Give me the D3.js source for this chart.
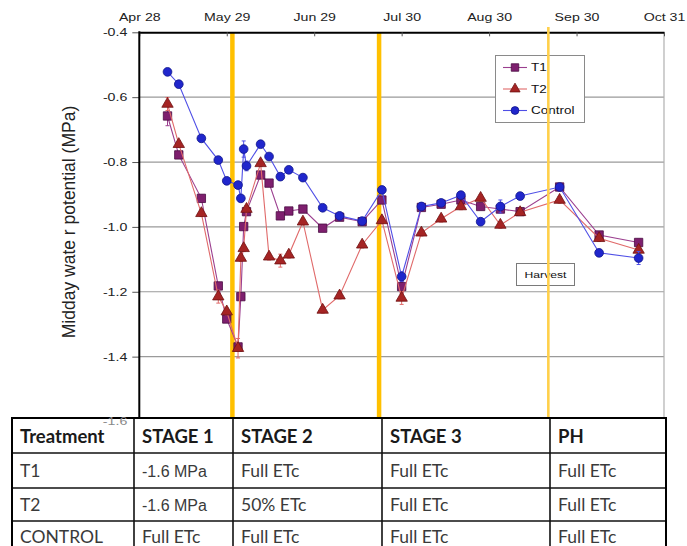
<!DOCTYPE html>
<html><head><meta charset="utf-8">
<script src="https://cdn.jsdelivr.net/npm/d3@7"></script>
<style>body{margin:0;background:#fff}svg{display:block}</style>
</head><body><svg id="c" width="687" height="546"></svg>
<script>
// ---------- data ----------
const dates = ["2011-05-08","2011-05-12","2011-05-20","2011-05-26","2011-05-29","2011-06-02","2011-06-03","2011-06-04","2011-06-05","2011-06-10","2011-06-13","2011-06-17","2011-06-20","2011-06-25","2011-07-02","2011-07-08","2011-07-16","2011-07-23","2011-07-30","2011-08-06","2011-08-13","2011-08-20","2011-08-27","2011-09-03","2011-09-10","2011-09-24","2011-10-08","2011-10-22"];
const t1 =      [-0.658,-0.778,-0.912,-1.182,-1.284,-1.370,-1.215,-0.999,-0.953,-0.840,-0.865,-0.966,-0.951,-0.945,-1.004,-0.970,-0.984,-0.917,-1.184,-0.940,-0.930,-0.917,-0.937,-0.945,-0.953,-0.877,-1.025,-1.048];
const t2 =      [-0.621,-0.745,-0.958,-1.215,-1.261,-1.374,-1.096,-1.066,-0.945,-0.804,-1.092,-1.104,-1.086,-0.984,-1.256,-1.212,-1.055,-0.980,-1.219,-1.018,-0.975,-0.937,-0.911,-0.994,-0.955,-0.917,-1.035,-1.071];
const control = [-0.522,-0.560,-0.727,-0.794,-0.858,-0.871,-0.912,-0.760,-0.812,-0.745,-0.783,-0.845,-0.824,-0.848,-0.941,-0.966,-0.982,-0.886,-1.153,-0.937,-0.926,-0.902,-0.984,-0.937,-0.905,-0.877,-1.080,-1.096];
const t1Err =      [0.03,0.01,0.01,0.01,0.01,0.01,0.01,0.01,0.01,0.01,0.01,0.01,0.01,0.01,0.01,0.01,0.01,0.01,0.02,0.01,0.01,0.01,0.01,0.01,0.01,0.01,0.01,0.01];
const t2Err =      [0.02,0.01,0.01,0.02,0.01,0.03,0.01,0.01,0.01,0.01,0.01,0.02,0.01,0.01,0.01,0.01,0.01,0.01,0.02,0.01,0.01,0.01,0.01,0.01,0.01,0.01,0.01,0.01];
const controlErr = [0.01,0.01,0.01,0.01,0.01,0.01,0.01,0.025,0.015,0.01,0.01,0.01,0.01,0.01,0.01,0.01,0.01,0.01,0.015,0.01,0.01,0.01,0.01,0.02,0.01,0.01,0.01,0.02];
const seriesNames = ["T1","T2","Control"];
const tickDates = ["2011-04-28","2011-05-29","2011-06-29","2011-07-30","2011-08-30","2011-09-30","2011-10-31"];
const yTicks = [-0.4,-0.6,-0.8,-1.0,-1.2,-1.4,-1.6];
const stageDates = ["2011-05-31","2011-07-22","2011-09-20"];
const yTitle = "Midday wate r potential (MPa)";
const harvestLabel = "Harvest";
const tableHeader = ["Treatment","STAGE 1","STAGE 2","STAGE 3","PH"];
const tableRows = [
  ["T1","-1.6 MPa","Full ETc","Full ETc","Full ETc"],
  ["T2","-1.6 MPa","50% ETc","Full ETc","Full ETc"],
  ["CONTROL","Full ETc","Full ETc","Full ETc","Full ETc"]
];

// ---------- layout ----------
const parse = d3.timeParse("%Y-%m-%d");
const L = 139.3, R = 664, T = 32.3, B = 421.5, TABLE_TOP = 418;
const SX = 1.35;
const svg = d3.select("#c");
const x = d3.scaleTime().domain([parse(tickDates[0]), parse(tickDates[tickDates.length-1])]).range([L, R]);
const y = d3.scaleLinear().domain([-1.6, -0.4]).range([B, T]);
const fmt = d => d3.format(".1f")(d).replace("\u2212", "-");

const styles = {
  T1: {line:"#9b3f8f", fill:"#7e1f6e", stroke:"#4a0d42", sym:d3.symbolSquare, size:70},
  T2: {line:"#e06a6a", fill:"#a52424", stroke:"#6e1010", sym:d3.symbolTriangle, size:56},
  Control: {line:"#4f4fe6", fill:"#2026cc", stroke:"#10168a", sym:d3.symbolCircle, size:60}
};
const seriesData = [
  {name:"T1", vals:t1, err:t1Err},
  {name:"T2", vals:t2, err:t2Err},
  {name:"Control", vals:control, err:controlErr}
];

// gridlines
svg.append("g").selectAll("line").data(yTicks.filter(v => v > -1.6 && v < -0.4)).join("line")
  .attr("x1", L).attr("x2", R).attr("y1", d => y(d)).attr("y2", d => y(d))
  .attr("stroke", "#9a9a9a").attr("stroke-width", 1.2);

// right border
svg.append("line").attr("x1", R).attr("x2", R).attr("y1", T).attr("y2", TABLE_TOP)
  .attr("stroke", "#b0b0b0").attr("stroke-width", 1.2);

// stage lines (first two)
svg.append("g").selectAll("line").data(stageDates.slice(0,2)).join("line")
  .attr("x1", d => x(parse(d))).attr("x2", d => x(parse(d)))
  .attr("y1", T).attr("y2", TABLE_TOP)
  .attr("stroke", "#ffc000").attr("stroke-width", 4.5);

// series
const line = d3.line().x(d => x(d.date)).y(d => y(d.v));
seriesData.forEach(s => {
  const st = styles[s.name];
  const pts = dates.map((d,i) => ({date: parse(d), v: s.vals[i], e: s.err[i]}));
  const g = svg.append("g");
  g.append("path").datum(pts).attr("d", line).attr("fill","none")
    .attr("stroke", st.line).attr("stroke-width", 1.1);
  const eb = g.append("g").attr("stroke", st.line).attr("stroke-width", 1);
  eb.selectAll("line.v").data(pts).join("line").attr("class","v")
    .attr("x1", d => x(d.date)).attr("x2", d => x(d.date))
    .attr("y1", d => y(d.v - d.e)).attr("y2", d => y(d.v + d.e));
  eb.selectAll("line.lo").data(pts).join("line").attr("class","lo")
    .attr("x1", d => x(d.date)-2).attr("x2", d => x(d.date)+2)
    .attr("y1", d => y(d.v - d.e)).attr("y2", d => y(d.v - d.e));
  eb.selectAll("line.hi").data(pts).join("line").attr("class","hi")
    .attr("x1", d => x(d.date)-2).attr("x2", d => x(d.date)+2)
    .attr("y1", d => y(d.v + d.e)).attr("y2", d => y(d.v + d.e));
  g.selectAll("path.m").data(pts).join("path").attr("class","m")
    .attr("d", d3.symbol(st.sym, st.size))
    .attr("transform", d => `translate(${x(d.date)},${y(d.v)})`)
    .attr("fill", st.fill).attr("stroke", st.stroke).attr("stroke-width", 0.8);
});

// top axis
const xAxis = d3.axisTop(x).tickValues(tickDates.map(parse))
  .tickFormat(d3.timeFormat("%b %d")).tickSizeInner(-4).tickSizeOuter(0).tickPadding(11);
const gx = svg.append("g").attr("transform", `translate(0,${T})`).call(xAxis);
gx.select(".domain").attr("stroke", "#000").attr("stroke-width", 2);
gx.selectAll(".tick line").attr("stroke", "#555");
gx.selectAll(".tick text").attr("font-family", "Liberation Sans, Arial, sans-serif")
  .attr("font-size", 10.5).attr("fill", "#222").attr("transform", `scale(${SX},1)`);

// left axis (last label drawn later, over the table)
const yAxis = d3.axisLeft(y).tickValues(yTicks).tickFormat(fmt)
  .tickSizeInner(7).tickSizeOuter(0).tickPadding(4);
const gy = svg.append("g").attr("transform", `translate(${L},0)`).call(yAxis);
gy.select(".domain").remove();
gy.selectAll(".tick line").attr("stroke", "#555");
gy.selectAll(".tick text").attr("font-family", "Liberation Sans, Arial, sans-serif")
  .attr("font-size", 10.5).attr("fill", "#222")
  .attr("x", -12 / SX).attr("transform", `scale(${SX},1)`);
svg.append("line").attr("x1", L).attr("x2", L).attr("y1", T - 1).attr("y2", TABLE_TOP)
  .attr("stroke", "#000").attr("stroke-width", 2);

// y title
svg.append("text").attr("transform", "translate(75,222) rotate(-90)")
  .attr("text-anchor", "middle").attr("font-family", "Liberation Sans, Arial, sans-serif")
  .attr("font-size", 17.5).attr("fill", "#222").text(yTitle);

// legend
const lg = svg.append("g");
lg.append("rect").attr("x", 495.5).attr("y", 55.5).attr("width", 89).attr("height", 67)
  .attr("fill", "#fff").attr("stroke", "#8a8a8a").attr("stroke-width", 1);
seriesNames.forEach((n, i) => {
  const st = styles[n];
  const yy = 67.5 + i * 21.5;
  lg.append("line").attr("x1", 503).attr("x2", 527).attr("y1", yy).attr("y2", yy)
    .attr("stroke", st.line).attr("stroke-width", 1.1);
  lg.append("path").attr("d", d3.symbol(st.sym, st.size * 0.8)).attr("transform", `translate(515,${yy})`)
    .attr("fill", st.fill).attr("stroke", st.stroke).attr("stroke-width", 0.8);
  lg.append("text").attr("transform", `translate(531,${yy + 3.6}) scale(${SX},1)`)
    .attr("font-family", "Liberation Sans, Arial, sans-serif").attr("font-size", 10)
    .attr("fill", "#111").text(n);
});

// harvest box
svg.append("rect").attr("x", 516.5).attr("y", 263.5).attr("width", 58).attr("height", 22)
  .attr("fill", "#fff").attr("stroke", "#7a7a7a").attr("stroke-width", 1);
svg.append("text").attr("transform", `translate(545.5,278) scale(${SX},1)`).attr("text-anchor", "middle")
  .attr("font-family", "Liberation Sans, Arial, sans-serif").attr("font-size", 9)
  .attr("fill", "#111").text(harvestLabel);

// third stage line on top
svg.append("line").attr("x1", x(parse(stageDates[2]))).attr("x2", x(parse(stageDates[2])))
  .attr("y1", 27).attr("y2", TABLE_TOP).attr("stroke", "#ffd04a").attr("stroke-width", 2.6);

// ---------- table ----------
const colX = [12, 134, 233, 382, 550, 666];
const rowY = [418, 453, 488, 521, 556];
const baseY = [443, 477, 511, 543];
const tg = svg.append("g");
tg.append("rect").attr("x", colX[0]).attr("y", rowY[0]).attr("width", colX[5] - colX[0]).attr("height", rowY[4] - rowY[0])
  .attr("fill", "#fff");
rowY.slice(1, 4).forEach(v => tg.append("line").attr("x1", colX[0]).attr("x2", colX[5]).attr("y1", v).attr("y2", v)
  .attr("stroke", "#111").attr("stroke-width", 1.6));
colX.slice(1, 5).forEach(v => tg.append("line").attr("x1", v).attr("x2", v).attr("y1", rowY[0]).attr("y2", rowY[4])
  .attr("stroke", "#111").attr("stroke-width", 1.6));
tg.append("rect").attr("x", colX[0]).attr("y", rowY[0]).attr("width", colX[5] - colX[0]).attr("height", rowY[4] - rowY[0])
  .attr("fill", "none").attr("stroke", "#000").attr("stroke-width", 2);
tableHeader.forEach((h, j) => {
  tg.append("text").attr("x", colX[j] + 8).attr("y", baseY[0])
    .attr("font-family", "Lato, sans-serif").attr("font-weight", "bold").attr("font-size", 18.5)
    .attr("fill", "#1a1a1a").text(h);
});
tableRows.forEach((row, i) => {
  row.forEach((c, j) => {
    const isMpa = c.indexOf("MPa") >= 0;
    tg.append("text").attr("x", colX[j] + 8).attr("y", baseY[i + 1])
      .attr("font-family", isMpa ? "Liberation Sans, Arial, sans-serif" : "Lato, sans-serif")
      .attr("font-size", isMpa ? 16 : 17.5).attr("fill", "#3a3a3a").text(c);
  });
});

// bottom y label peeks over the table edge, as in the reference
svg.append("text").attr("transform", `translate(${L - 12},${y(-1.6) + 3.5}) scale(${SX},1)`)
  .attr("text-anchor", "end").attr("font-family", "Liberation Sans, Arial, sans-serif")
  .attr("font-size", 10.5).attr("fill", "#888").text(fmt(-1.6));
</script></body></html>
